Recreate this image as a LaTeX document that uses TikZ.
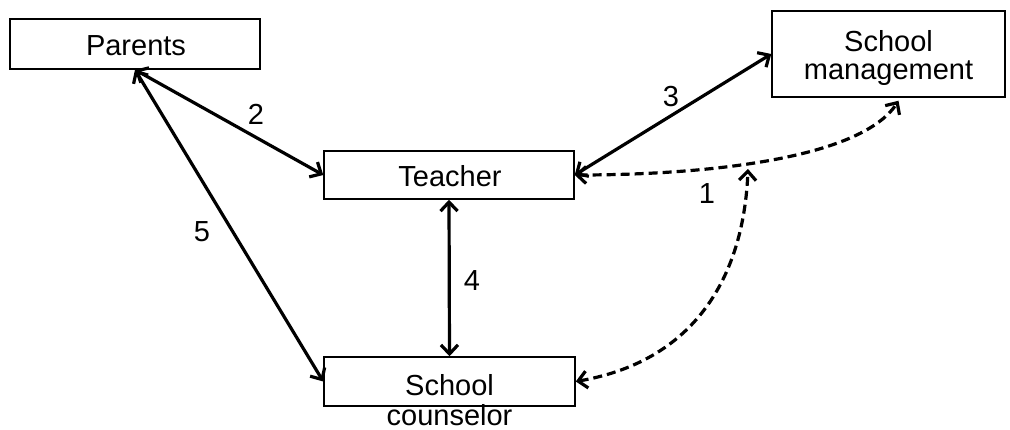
\documentclass[tikz,border=0pt]{standalone}
\usepackage{fontspec}
\setmainfont{Liberation Sans}
\usetikzlibrary{arrows.meta,calc}
\begin{document}
\begin{tikzpicture}[x=1pt,y=-1pt,
  box/.style={draw=black,line width=1.5pt,rectangle,inner sep=0pt,fill=white},
  txt/.style={font=\fontsize{29}{31}\selectfont,align=center,inner sep=0pt},
  num/.style={font=\fontsize{29}{31}\selectfont,inner sep=0pt},
  link/.style={line width=3.2pt,{Straight Barb[length=9pt,width=17pt]}-{Straight Barb[length=9pt,width=17pt]}},
  dlink/.style={link,dash pattern=on 9pt off 5pt}]
\useasboundingbox (0,0) rectangle (1010,430);
\node[box,minimum width=250pt,minimum height=50pt] (P) at (135,44) {};
\node[txt] (Pt) at (136,46) {Parents};
\node[box,minimum width=250pt,minimum height=48pt] (T) at (449,175) {};
\node[txt] (Tt) at (450,176) {Teacher};
\node[box,minimum width=233pt,minimum height=86pt] (SM) at (888.5,54) {};
\node[txt] (SMt) at (888.5,58) {School\\[-3pt]management};
\node[box,minimum width=251pt,minimum height=49pt] (C) at (449.5,381.5) {};
\node[txt] (Ct) at (449.5,400) {School\\[-1pt]counselor};
\coordinate (smb) at ($(SM.south)+(10,3)$);
\coordinate (m1) at (748,169);
\draw[link] (P.south) -- (T.west);
\draw[link] (P.south) -- (C.west);
\draw[link] (T.east) -- (SM.west);
\draw[link] (T.south) -- (C.north);
\draw[dlink] (T.east) .. controls (700,175) and (860,160) .. (smb);
\draw[dlink] (C.east) .. controls (700,360) and (744,270) .. (m1);
\node[num] (n2) at (256,114) {2};
\node[num] (n5) at (202,232) {5};
\node[num] (n3) at (671,97) {3};
\node[num] (n4) at (472,281) {4};
\node[num] (n1) at (707,194) {1};
\end{tikzpicture}
\end{document}
